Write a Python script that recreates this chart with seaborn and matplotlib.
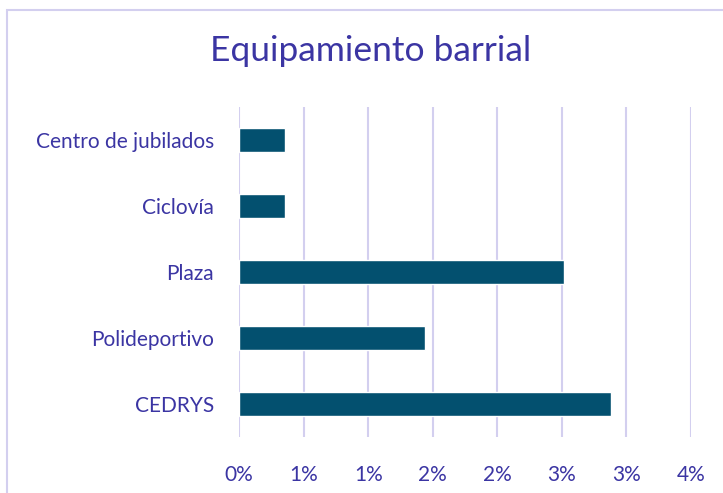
import matplotlib
matplotlib.use("Agg")
import matplotlib.pyplot as plt
import seaborn as sns
import pandas as pd
from matplotlib.patches import Rectangle

# datos (porcentaje)
categorias = ["Centro de jubilados", "Ciclovía", "Plaza", "Polideportivo", "CEDRYS"]
valores = [0.36, 0.36, 2.52, 1.44, 2.88]
ticks = [0, 0.5, 1, 1.5, 2, 2.5, 3, 3.5]
tick_labels = ["0%", "1%", "1%", "2%", "2%", "3%", "3%", "4%"]

df = pd.DataFrame({"equipamiento": categorias, "porcentaje": valores})

sns.set_style("white")
plt.rcParams["font.family"] = ["Lato", "DejaVu Sans"]

texto = "#3b35a3"
grilla = "#d3cfef"

fig = plt.figure(figsize=(7.23, 4.93), dpi=100)
ax = fig.add_axes([239 / 723, 1 - 437 / 493, (691 - 239) / 723, (437 - 107) / 493])

sns.barplot(data=df, x="porcentaje", y="equipamiento", color="#03506f",
            width=0.35, ax=ax, zorder=3, saturation=1)

ax.set_xlim(0, 3.5)
ax.set_xticks(ticks)
ax.set_xticklabels(tick_labels)
ax.grid(axis="x", color=grilla, linewidth=1.5, zorder=0)
ax.grid(axis="y", visible=False)
for s in ax.spines.values():
    s.set_visible(False)
ax.tick_params(axis="both", length=0, labelsize=15, colors=texto)
ax.tick_params(axis="y", pad=18)
ax.tick_params(axis="x", pad=20)
ax.set_xlabel("")
ax.set_ylabel("")

fig.text(371 / 723, 1 - 51 / 493, "Equipamiento barrial", ha="center", va="center",
         fontsize=25.5, color=texto)

fig.patches.append(Rectangle((7 / 723, -0.05), 1.1, 1 - 10 / 493 + 0.05,
                             transform=fig.transFigure, fill=False,
                             edgecolor=grilla, linewidth=1.5))

fig.savefig("out.png", dpi=100)
